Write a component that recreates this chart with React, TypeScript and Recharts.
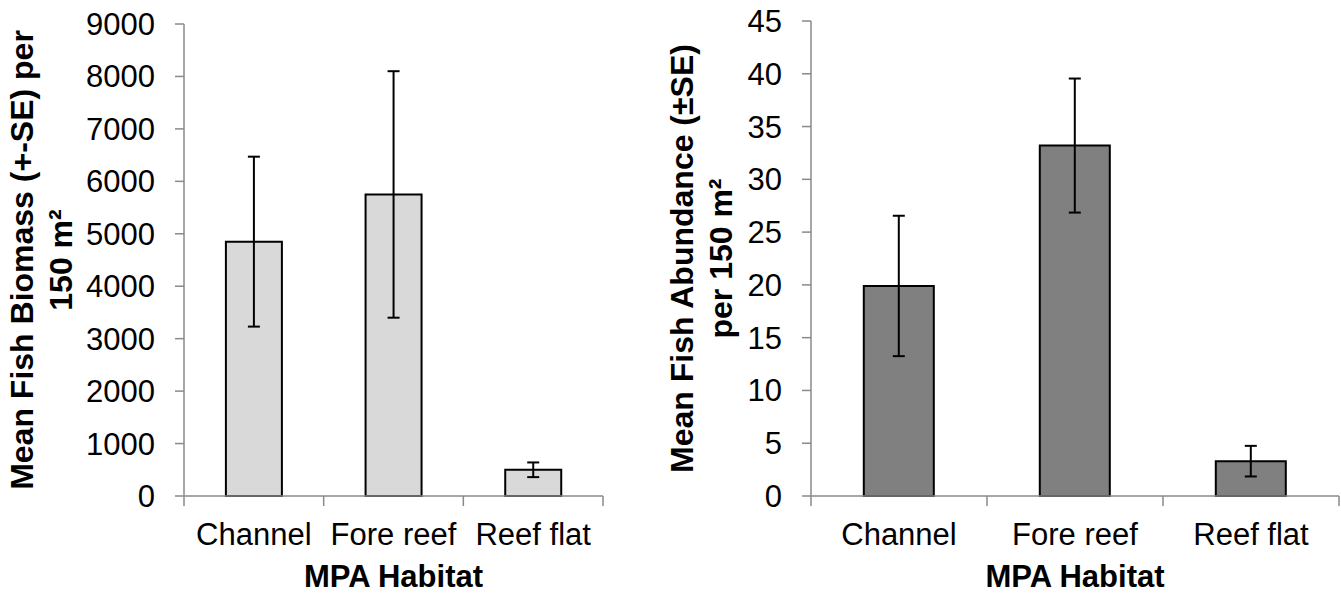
import React from "react";
import { BarChart, Bar, XAxis, YAxis, ErrorBar, Label } from "recharts";

const habitats = ["Channel", "Fore reef", "Reef flat"];
const biomassMean = [4850, 5750, 500];
const biomassSE = [1620, 2350, 140];
const abundanceMean = [19.9, 33.2, 3.3];
const abundanceSE = [6.65, 6.35, 1.45];
const biomassTicks = [0, 1000, 2000, 3000, 4000, 5000, 6000, 7000, 8000, 9000];
const abundanceTicks = [0, 5, 10, 15, 20, 25, 30, 35, 40, 45];

const font = '"Liberation Sans", Arial, sans-serif';
const axisGray = "#8a8a8a";
const xLabelGap = 27;

const biomassData = habitats.map((h, i) => ({ habitat: h, mean: biomassMean[i], se: biomassSE[i] }));
const abundanceData = habitats.map((h, i) => ({ habitat: h, mean: abundanceMean[i], se: abundanceSE[i] }));

// category label plus Excel-style tick marks on the band edges
function HabitatTick(props: any) {
  const { x, y, payload, index, visibleTicksCount } = props;
  const half = payload.offset ?? 0;
  const axisY = y - xLabelGap;
  return (
    <g>
      <line x1={x - half} x2={x - half} y1={axisY} y2={axisY + 10} stroke={axisGray} strokeWidth={1.5} />
      {index === visibleTicksCount - 1 && (
        <line x1={x + half} x2={x + half} y1={axisY} y2={axisY + 10} stroke={axisGray} strokeWidth={1.5} />
      )}
      <text x={x} y={y} dy="0.71em" textAnchor="middle" fontSize={31} fill="#000" fontFamily={font}>
        {payload.value}
      </text>
    </g>
  );
}

function YTitle({ viewBox, lines, xs }: { viewBox: any; lines: string[]; xs: number[] }) {
  const cy = viewBox.y + viewBox.height / 2;
  return (
    <g>
      {lines.map((t, i) => {
        const tx = viewBox.x + xs[i];
        return (
          <text
            key={i}
            x={tx}
            y={cy}
            transform={`rotate(-90 ${tx} ${cy})`}
            textAnchor="middle"
            fontWeight="bold"
            fontSize={32}
            fill="#000"
            fontFamily={font}
          >
            {t}
          </text>
        );
      })}
    </g>
  );
}

function XTitle({ viewBox }: { viewBox: any }) {
  return (
    <text
      x={viewBox.x + viewBox.width / 2}
      y={viewBox.y + 91}
      textAnchor="middle"
      fontWeight="bold"
      fontSize={31}
      fill="#000"
      fontFamily={font}
    >
      MPA Habitat
    </text>
  );
}

function HabitatChart({
  data,
  fill,
  ticks,
  width,
  yWidth,
  margin,
  titleLines,
  titleXs,
}: {
  data: { habitat: string; mean: number; se: number }[];
  fill: string;
  ticks: number[];
  width: number;
  yWidth: number;
  margin: { top: number; right: number; left: number; bottom: number };
  titleLines: string[];
  titleXs: number[];
}) {
  return (
    <BarChart width={width} height={594} data={data} margin={margin} barCategoryGap="30%">
      <XAxis
        dataKey="habitat"
        height={98}
        axisLine={{ stroke: axisGray, strokeWidth: 1.5 }}
        tickLine={false}
        tickSize={0}
        tickMargin={xLabelGap}
        tick={<HabitatTick />}
        interval={0}
      >
        <Label content={(p: any) => <XTitle viewBox={p.viewBox} />} />
      </XAxis>
      <YAxis
        width={yWidth}
        domain={[ticks[0], ticks[ticks.length - 1]]}
        ticks={ticks}
        interval={0}
        axisLine={{ stroke: axisGray, strokeWidth: 1.5 }}
        tickLine={{ stroke: axisGray, strokeWidth: 1.5 }}
        tickSize={9}
        tickMargin={20}
        tick={{ fill: "#000", fontSize: 31, fontFamily: font }}
      >
        <Label content={(p: any) => <YTitle viewBox={p.viewBox} lines={titleLines} xs={titleXs} />} />
      </YAxis>
      <Bar dataKey="mean" fill={fill} stroke="#000" strokeWidth={2} isAnimationActive={false}>
        <ErrorBar dataKey="se" direction="y" width={6} stroke="#000" strokeWidth={2} />
      </Bar>
    </BarChart>
  );
}

export default function App() {
  return (
    <div style={{ position: "absolute", left: 0, top: 0, width: 1341, height: 594, display: "flex", background: "#fff" }}>
      <HabitatChart
        data={biomassData}
        fill="#d9d9d9"
        ticks={biomassTicks}
        width={640}
        yWidth={184}
        margin={{ top: 24, right: 37, left: 0, bottom: 0 }}
        titleLines={["Mean Fish Biomass (+-SE) per", "150 m²"]}
        titleXs={[33, 72]}
      />
      <HabitatChart
        data={abundanceData}
        fill="#808080"
        ticks={abundanceTicks}
        width={701}
        yWidth={171}
        margin={{ top: 21, right: 2, left: 0, bottom: 0 }}
        titleLines={["Mean Fish Abundance (±SE)", "per 150 m²"]}
        titleXs={[53, 92]}
      />
    </div>
  );
}
